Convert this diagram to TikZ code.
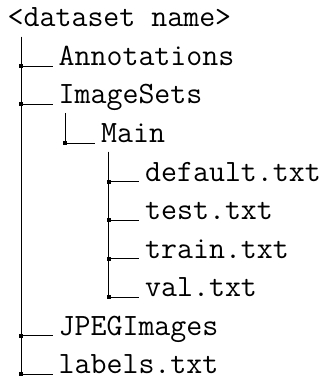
\documentclass[tikz,border=0pt]{standalone}
\usepackage{fontspec}
\usetikzlibrary{calc}
\begin{document}
\begin{tikzpicture}[x=1pt,y=-1pt,
  entry/.style={anchor=base west,inner sep=0pt,font=\fontsize{31}{31}\selectfont\ttfamily},
  conn/.style={line width=0.8pt,black},
  knot/.style={fill=black,minimum size=4pt,inner sep=0pt,draw=none,rectangle}]
\useasboundingbox (0,0) rectangle (326,379);
% texts
\node[entry] (root) at (7.5,27) {<dataset name>};
\node[entry] (ann)  at (58.5,65.5) {Annotations};
\node[entry] (isets) at (58.5,104) {ImageSets};
\node[entry] (main) at (101,142.5) {Main};
\node[entry] (def) at (145,181) {default.txt};
\node[entry] (tst) at (145,219.5) {test.txt};
\node[entry] (trn) at (145,258) {train.txt};
\node[entry] (val) at (145,296.5) {val.txt};
\node[entry] (jpg) at (58.5,335) {JPEGImages};
\node[entry] (lbl) at (58.5,373.5) {labels.txt};
% vertical starts
\coordinate (v1) at (21,37);
\coordinate (v2) at (65,113);
\coordinate (v3) at (108.5,152);
% connectors
\foreach \c in {ann,isets,jpg,lbl} {
  \draw[conn] (v1) |- ($(\c.base west)+(-6,0.5)$) coordinate (k-\c);
  \node[knot] at (v1 |- k-\c) {};
}
\draw[conn] (v2) |- ($(main.base west)+(-6,0.5)$) coordinate (k-main);
\node[knot] at (v2 |- k-main) {};
\foreach \c in {def,tst,trn,val} {
  \draw[conn] (v3) |- ($(\c.base west)+(-6.5,0.5)$) coordinate (k-\c);
  \node[knot] at (v3 |- k-\c) {};
}
\end{tikzpicture}
\end{document}
